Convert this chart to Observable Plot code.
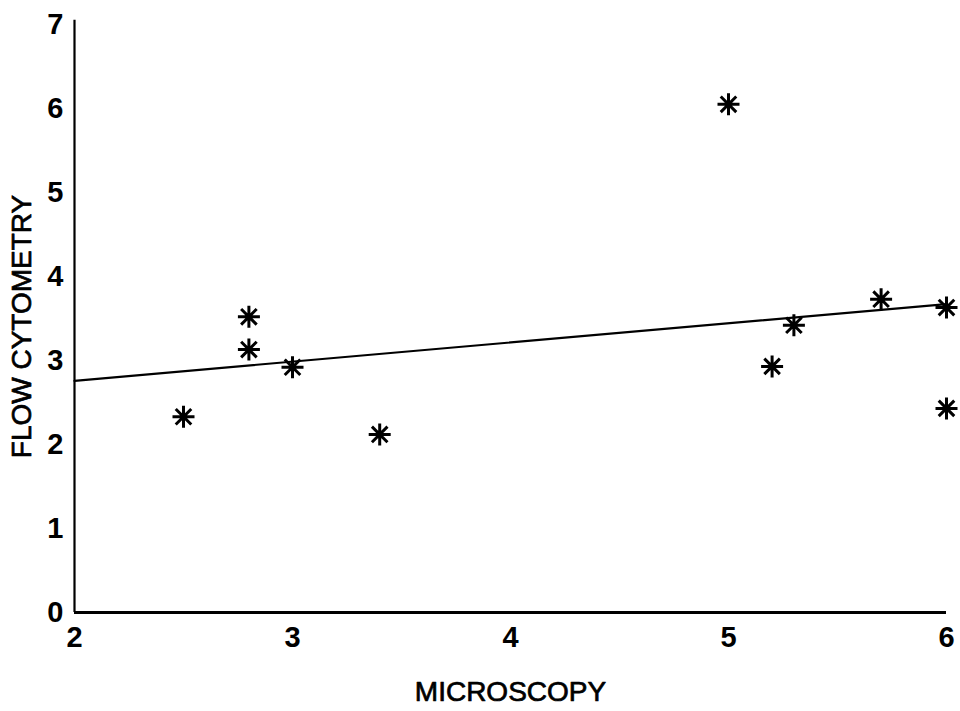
<!DOCTYPE html>
<html>
<head>
<meta charset="utf-8">
<script src="https://cdn.jsdelivr.net/npm/d3@7"></script>
<script src="https://cdn.jsdelivr.net/npm/@observablehq/plot@0.6"></script>
<style>
  html, body { margin: 0; padding: 0; background: #fff; }
  #chart { width: 960px; height: 711px; }
</style>
</head>
<body>
<div id="chart"></div>
<script>
// Data
const microscopy     = [2.5, 2.8, 2.8, 3.0, 3.4, 5.0, 5.2, 5.3, 5.7, 6.0, 6.0];
const flowCytometry  = [2.33, 3.52, 3.13, 2.92, 2.12, 6.05, 2.93, 3.42, 3.73, 3.63, 2.43];
const xTicks = [2, 3, 4, 5, 6];
const yTicks = [0, 1, 2, 3, 4, 5, 6, 7];
const xDomain = [2, 6];
const yDomain = [0, 7];
const xTitle = "MICROSCOPY";
const yTitle = "FLOW CYTOMETRY";

const data = microscopy.map((m, i) => ({x: m, y: flowCytometry[i]}));

// Least-squares fit, drawn across the whole x domain
const mx = d3.mean(microscopy), my = d3.mean(flowCytometry);
const slope = d3.sum(microscopy, (x, i) => (x - mx) * (flowCytometry[i] - my)) /
              d3.sum(microscopy, x => (x - mx) ** 2);
const intercept = my - slope * mx;
const fit = xDomain.map(x => ({x, y: intercept + slope * x}));

// 8-armed asterisk symbol
const asterisk8 = {
  draw(context, size) {
    const r = Math.sqrt(size / Math.PI);
    const d = r * Math.SQRT1_2;
    context.moveTo(0, -r); context.lineTo(0, r);
    context.moveTo(-r, 0); context.lineTo(r, 0);
    context.moveTo(-d, -d); context.lineTo(d, d);
    context.moveTo(-d, d); context.lineTo(d, -d);
  }
};

const chart = Plot.plot({
  width: 960,
  height: 711,
  marginLeft: 74,
  marginRight: 14,
  marginTop: 24,
  marginBottom: 99,
  style: {background: "#fff", color: "#000", fontFamily: "'Liberation Sans', Arial, sans-serif"},
  x: {domain: xDomain},
  y: {domain: yDomain},
  marks: [
    Plot.axisX({ticks: xTicks, tickFormat: d => String(d), tickSize: 0, tickPadding: 14, fontSize: 29, fontWeight: "bold", label: null}),
    Plot.axisY({ticks: yTicks, tickFormat: d => String(d), tickSize: 0, tickPadding: 11, fontSize: 29, fontWeight: "bold", label: null}),
    Plot.ruleY([0], {stroke: "#000", strokeWidth: 3}),
    Plot.ruleX([2], {stroke: "#000", strokeWidth: 2.2, y1: 0, y2: 7.05}),
    Plot.line(fit, {x: "x", y: "y", stroke: "#000", strokeWidth: 2.2}),
    Plot.dot(data, {x: "x", y: "y", symbol: asterisk8, r: 11, stroke: "#000", strokeWidth: 3, fill: "none"}),
    Plot.text([xTitle], {frameAnchor: "bottom", dy: 88, fontSize: 28, fill: "#000", stroke: "#000", strokeWidth: 0.7}),
    Plot.text([yTitle], {frameAnchor: "left", textAnchor: "middle", dx: -52, dy: 8, rotate: -90, fontSize: 28, fill: "#000", stroke: "#000", strokeWidth: 0.7})
  ]
});

document.getElementById("chart").append(chart);
</script>
</body>
</html>
